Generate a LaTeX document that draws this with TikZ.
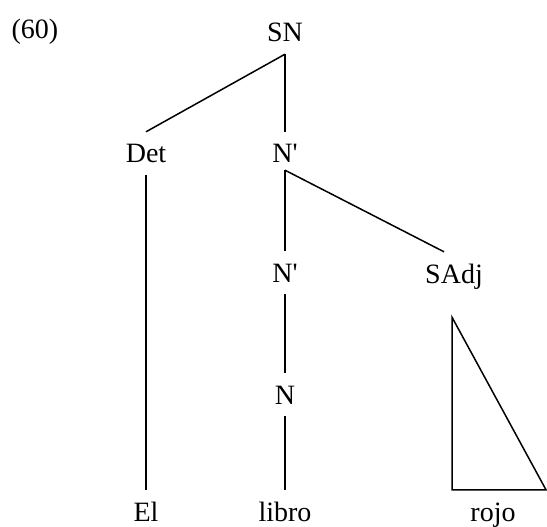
\documentclass[tikz,border=0pt]{standalone}
\usepackage{fontspec}
\setmainfont{Liberation Serif}
\usetikzlibrary{positioning}

\begin{document}
\begin{tikzpicture}[
  x=1pt,y=-1pt,
  every node/.style={font=\fontsize{28}{32}\selectfont},
  cat/.style={anchor=base,inner xsep=0pt,inner ysep=12pt,text height=19pt,text depth=0pt},
  branch/.style={line width=1.5pt,black}
]
\useasboundingbox (0,0) rectangle (547,527);
\node[anchor=base] (exnum) at (35,39) {(60)};
\node[cat] (sn) at (285,42) {SN};
\node[cat] (det) at (146,163) {Det};
\node[cat] (nbar) at (285,163) {N\textquotesingle};
\node[cat] (nbarb) at (285,282) {N\textquotesingle};
\node[cat] (sadj) at (454,283) {SAdj};
\node[cat] (n) at (285,404) {N};
\node[cat] (el) at (146,521) {El};
\node[cat] (libro) at (285,521) {libro};
\node[cat] (rojo) at (493,521) {rojo};
\draw[branch] (sn.south) -- (det.north);
\draw[branch] (sn.south) -- (nbar.north);
\draw[branch] (det.south) -- (el.north);
\draw[branch] ([yshift=5pt]nbar.south) -- (nbarb.north);
\draw[branch] ([yshift=5pt]nbar.south) -- ([xshift=-10pt]sadj.north);
\draw[branch] (nbarb.south) -- (n.north);
\draw[branch] (n.south) -- (libro.north);
% triangle over the phrase
\coordinate (apex) at ([xshift=-2pt,yshift=-22pt]sadj.south);
\draw[branch] (apex) -- (apex |- rojo.north)
  -- ([xshift=53pt]rojo.north) -- cycle;
\end{tikzpicture}
\end{document}
